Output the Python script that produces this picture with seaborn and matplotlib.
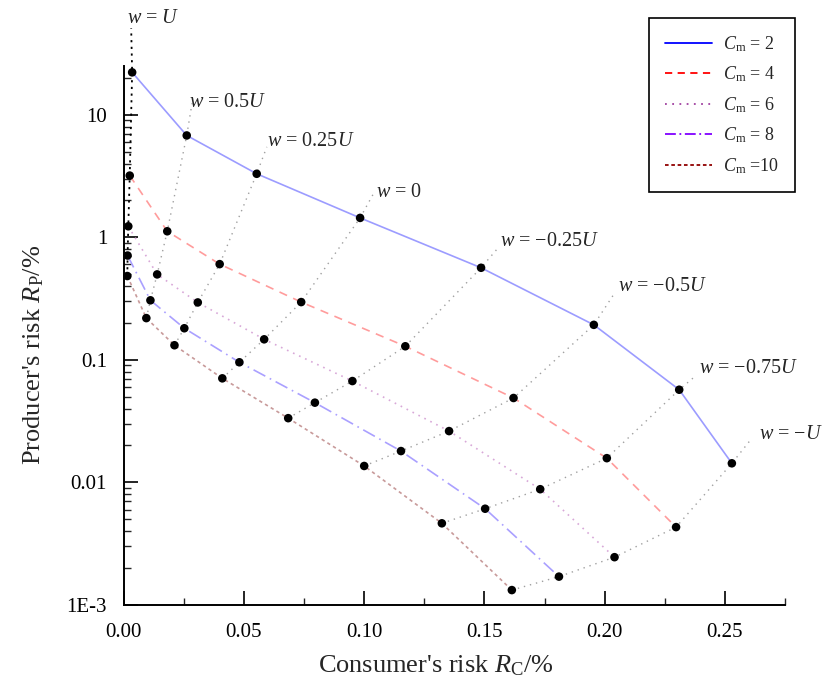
import pandas as pd
import seaborn as sns
import matplotlib.pyplot as plt
import matplotlib.ticker as ticker
from matplotlib.lines import Line2D

# Style first, then fonts (set_style resets font.family)
sns.set_style('ticks')
plt.rcParams['font.family'] = ['Liberation Serif', 'DejaVu Serif']
plt.rcParams['mathtext.fontset'] = 'custom'
plt.rcParams['mathtext.rm'] = 'Liberation Serif'
plt.rcParams['mathtext.it'] = 'Liberation Serif:italic'

# Guard band factor w along each curve (left to right)
w_values = ['U', '0.5U', '0.25U', '0', '-0.25U', '-0.5U', '-0.75U', '-U']
w_texts = [r'$w$ = $U$', r'$w$ = 0.5$U$', r'$w$ = 0.25$U$', r'$w$ = 0',
           '$w$ = \u22120.25$U$', '$w$ = \u22120.5$U$', '$w$ = \u22120.75$U$', '$w$ = \u2212$U$']

# Consumer's risk R_C (%) and producer's risk R_P (%) for each C_m
rc_cm2 = [0.0035, 0.0262, 0.0553, 0.0983, 0.1486, 0.1955, 0.2310, 0.2529]
rp_cm2 = [22.2, 6.78, 3.30, 1.44, 0.564, 0.193, 0.0570, 0.0143]

rc_cm4 = [0.0025, 0.0181, 0.0399, 0.0738, 0.1171, 0.1621, 0.2009, 0.2297]
rp_cm4 = [3.19, 1.12, 0.604, 0.296, 0.129, 0.0488, 0.01575, 0.00431]

rc_cm6 = [0.0019, 0.0139, 0.0308, 0.0584, 0.0951, 0.1353, 0.1732, 0.2041]
rp_cm6 = [1.23, 0.498, 0.294, 0.147, 0.0671, 0.0262, 0.00879, 0.00245]

rc_cm8 = [0.0016, 0.0111, 0.0252, 0.0481, 0.0795, 0.1153, 0.1503, 0.1810]
rp_cm8 = [0.710, 0.306, 0.181, 0.0955, 0.0447, 0.0180, 0.00609, 0.00170]

rc_cm10 = [0.0015, 0.0094, 0.0211, 0.0410, 0.0684, 0.1000, 0.1323, 0.1614]
rp_cm10 = [0.483, 0.219, 0.1315, 0.0706, 0.0334, 0.0136, 0.00463, 0.00132]

cm_values = [2, 4, 6, 8, 10]
cm_labels = [r'$C_\mathrm{m}$ = 2', r'$C_\mathrm{m}$ = 4', r'$C_\mathrm{m}$ = 6',
             r'$C_\mathrm{m}$ = 8', r'$C_\mathrm{m}$ =10']

xtick_vals = [0.00, 0.05, 0.10, 0.15, 0.20, 0.25]
xtick_labels = ['0.00', '0.05', '0.10', '0.15', '0.20', '0.25']
ytick_vals = [1e-3, 1e-2, 1e-1, 1, 10]
ytick_labels = ['1E-3', '0.01', '0.1', '1', '10']

# Build long table
rows = []
for cm, rc, rp in zip(cm_values,
                      [rc_cm2, rc_cm4, rc_cm6, rc_cm8, rc_cm10],
                      [rp_cm2, rp_cm4, rp_cm6, rp_cm8, rp_cm10]):
    for w, x, y in zip(w_values, rc, rp):
        rows.append({'cm': cm, 'w': w, 'rc': x, 'rp': y})
df = pd.DataFrame(rows)

# Styles
legend_colors = {2: '#0000ff', 4: '#ff0000', 6: '#a040a0', 8: '#8000ff', 10: '#900000'}
line_colors = {2: '#9c9cff', 4: '#ff9c9c', 6: '#d8a8d8', 8: '#aaa0ff', 10: '#c89a9a'}
dash_map = {2: '', 4: (5, 4), 6: (1, 3), 8: (8, 3, 1, 3), 10: (2, 2)}
legend_ls = {2: '-', 4: (0, (4, 3)), 6: (0, (1, 3)), 8: (0, (6, 2, 1, 2)), 10: (0, (2, 1.5))}

# Where the w iso-lines end (above the C_m = 2 curve), next to their labels
w_end_rc = [0.0031, 0.0284, 0.0595, 0.1039, 0.1561, 0.2044, 0.2368, 0.2613]
w_end_rp = [50.8, 12.4, 5.47, 2.28, 0.838, 0.357, 0.0711, 0.0230]
w_text_off = [(-3, 0), (-2, -6), (0, -3), (2, -6), (1, -3), (2, -3), (4, 0), (5, -4)]

fig, ax = plt.subplots(figsize=(8.36, 6.85), dpi=100)
fig.subplots_adjust(left=0.148, right=0.939, bottom=0.117, top=0.9036)

# Iso-w dotted connectors
for i, w in enumerate(w_values):
    sub = df[df['w'] == w].sort_values('cm', ascending=False)
    xs = list(sub['rc']) + [w_end_rc[i]]
    ys = list(sub['rp']) + [w_end_rp[i]]
    if w == 'U':
        ax.plot(xs, ys, color='black', ls=(0, (1.2, 2.5)), lw=1.3, clip_on=False, zorder=2)
    else:
        ax.plot(xs, ys, color='#a0a0a0', ls=(0, (1, 3.5)), lw=1.0, clip_on=False, zorder=2)
    ax.annotate(w_texts[i], (w_end_rc[i], w_end_rp[i]), xytext=w_text_off[i],
                textcoords='offset points', ha='left', va='bottom',
                fontsize=14.5, annotation_clip=False)

# C_m curves
sns.lineplot(data=df, x='rc', y='rp', hue='cm', style='cm', palette=line_colors,
             dashes=dash_map, sort=False, estimator=None, legend=False,
             lw=1.2, ax=ax, zorder=3)

# Points
sns.scatterplot(data=df, x='rc', y='rp', color='black', s=38, edgecolor='none',
                legend=False, ax=ax, zorder=5, clip_on=False)

ax.set_yscale('log')
ax.set_xlim(0, 0.275)
ax.set_ylim(1e-3, 25)
ax.set_xticks(xtick_vals, labels=xtick_labels)
ax.set_yticks(ytick_vals, labels=ytick_labels)
ax.xaxis.set_minor_locator(ticker.FixedLocator([0.025, 0.075, 0.125, 0.175, 0.225, 0.275]))
ax.yaxis.set_minor_locator(ticker.LogLocator(base=10, subs=range(2, 10)))
ax.yaxis.set_minor_formatter(ticker.NullFormatter())
ax.tick_params(which='major', direction='in', length=10, width=1.2, labelsize=15,
               colors='black')
ax.tick_params(axis='x', which='major', pad=13)
ax.tick_params(axis='y', which='major', pad=12)
ax.tick_params(which='minor', direction='in', length=5, width=1.0)
sns.despine(ax=ax)
for s in ['left', 'bottom']:
    ax.spines[s].set_linewidth(1.4)
    ax.spines[s].set_color('black')

ax.set_xlabel(r"Consumer's risk $R_\mathrm{C}$/%", fontsize=19)
ax.set_ylabel(r"Producer's risk $R_\mathrm{P}$/%", fontsize=19)
ax.xaxis.set_label_coords(0.472, -0.09)
ax.yaxis.set_label_coords(-0.118, 0.464)

handles = [Line2D([], [], color=legend_colors[c], ls=legend_ls[c], lw=1.3) for c in cm_values]
leg = ax.legend(handles, cm_labels, loc='upper right', bbox_to_anchor=(0.951, 0.974),
                bbox_transform=fig.transFigure, borderaxespad=0, fontsize=13,
                handlelength=2.6, handletextpad=0.6, labelspacing=0.6,
                borderpad=0.9, fancybox=False, framealpha=1)
leg.get_frame().set_edgecolor('black')
leg.get_frame().set_linewidth(1.2)

fig.savefig('out.png', dpi=100)
